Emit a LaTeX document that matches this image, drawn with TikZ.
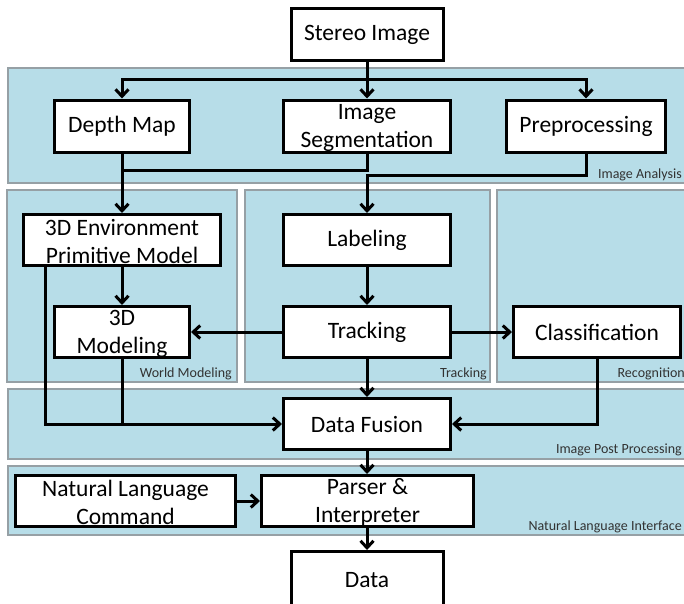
\documentclass[tikz,border=0pt]{standalone}
\usepackage{fontspec}
\setmainfont{Carlito}
\usetikzlibrary{arrows.meta}
\definecolor{bandfill}{RGB}{183,221,232}
\definecolor{bandline}{RGB}{150,160,165}
\definecolor{labeltext}{RGB}{50,50,50}
\newcommand{\lowstrut}{\rule{0pt}{19pt}}
\begin{document}
\begin{tikzpicture}[x=1pt,y=-1pt,
 band/.style={draw=bandline, fill=bandfill, line width=1.5pt, inner sep=0pt},
 box/.style={draw=black, fill=white, line width=3pt, align=center, font=\fontsize{23.5}{28}\selectfont, inner sep=0pt},
 conn/.style={line width=3pt},
 arr/.style={conn, -{Straight Barb[length=7pt,width=13pt,line width=3pt]}},
 blabel/.style={font=\fontsize{14}{16}\selectfont, text=labeltext, anchor=base east, inner sep=0pt}]
\useasboundingbox (0,0) rectangle (684,603);
% bands
\node[band, minimum width=678pt, minimum height=115pt] (bIA) at (347,125.5) {};
\node[band, minimum width=230pt, minimum height=192pt] (bWM) at (122,286) {};
\node[band, minimum width=245pt, minimum height=192pt] (bTR) at (367.5,286) {};
\node[band, minimum width=189pt, minimum height=192pt] (bRE) at (591.5,286) {};
\node[band, minimum width=678pt, minimum height=70pt] (bIP) at (347,424) {};
\node[band, minimum width=678pt, minimum height=69pt] (bNL) at (347,500.5) {};
\node[blabel] (lIA) at (682,178) {Image Analysis};
\node[blabel] (lWM) at (232,377) {World Modeling};
\node[blabel] (lTR) at (487,377) {Tracking};
\node[blabel] (lRE) at (685,377) {Recognition};
\node[blabel] (lIP) at (682,453) {Image Post Processing};
\node[blabel] (lNL) at (682,530) {Natural Language Interface};
% boxes
\node[box, minimum width=152pt, minimum height=52pt] (si) at (367,34.5) {Stereo Image};
\node[box, minimum width=135pt, minimum height=52pt] (dm) at (122,126) {Depth Map};
\node[box, minimum width=167pt, minimum height=52pt] (seg) at (367,126) {\lowstrut Image\\Segmentation};
\node[box, minimum width=159pt, minimum height=52pt] (pp) at (586,126) {Preprocessing};
\node[box, minimum width=197pt, minimum height=51pt] (env) at (122,240) {\lowstrut 3D Environment\\Primitive Model};
\node[box, minimum width=167pt, minimum height=51pt] (lab) at (367,240) {Labeling};
\node[box, minimum width=135pt, minimum height=51pt] (mod) at (122,332) {\lowstrut 3D\\Modeling};
\node[box, minimum width=167pt, minimum height=51pt] (trk) at (367,332) {Tracking};
\node[box, minimum width=167pt, minimum height=51pt] (cls) at (597,332) {Classification};
\node[box, minimum width=167pt, minimum height=51pt] (df) at (367,424) {Data Fusion};
\node[box, minimum width=220pt, minimum height=51pt] (nlc) at (125.5,501) {\lowstrut Natural Language\\Command};
\node[box, minimum width=212pt, minimum height=51pt] (par) at (367.5,501) {\lowstrut Parser \&\\Interpreter};
\node[box, minimum width=152pt, minimum height=57pt] (dat) at (367,580) {Data};
% connectors
\coordinate (j1) at (367,79);
\coordinate (j2) at (122,170);
\coordinate (j3) at (367,175);
\coordinate (j4) at (45,424);
\draw[conn] (si.south) -- (j1);
\draw[arr] (j1) -- (seg.north);
\draw[arr] (j1) -| (dm.north);
\draw[arr] (j1) -| (pp.north);
\draw[arr] (dm.south) -- (env.north);
\draw[conn] (seg.south) |- (j2);
\draw[arr] (pp.south) |- (j3) -- (lab.north);
\draw[arr] (env.south) -- (mod.north);
\draw[arr] (lab.south) -- (trk.north);
\draw[arr] (trk.west) -- (mod.east);
\draw[arr] (trk.east) -- (cls.west);
\draw[arr] (trk.south) -- (df.north);
\draw[arr] (env.south -| j4) -- (j4) -- (df.west);
\draw[conn] (mod.south) -- (mod.south |- j4);
\draw[arr] (cls.south) |- (df.east);
\draw[arr] (df.south) -- (df.south |- par.north);
\draw[arr] (nlc.east) -- (par.west);
\draw[arr] (par.south -| dat.north) -- (dat.north);
\end{tikzpicture}
\end{document}
